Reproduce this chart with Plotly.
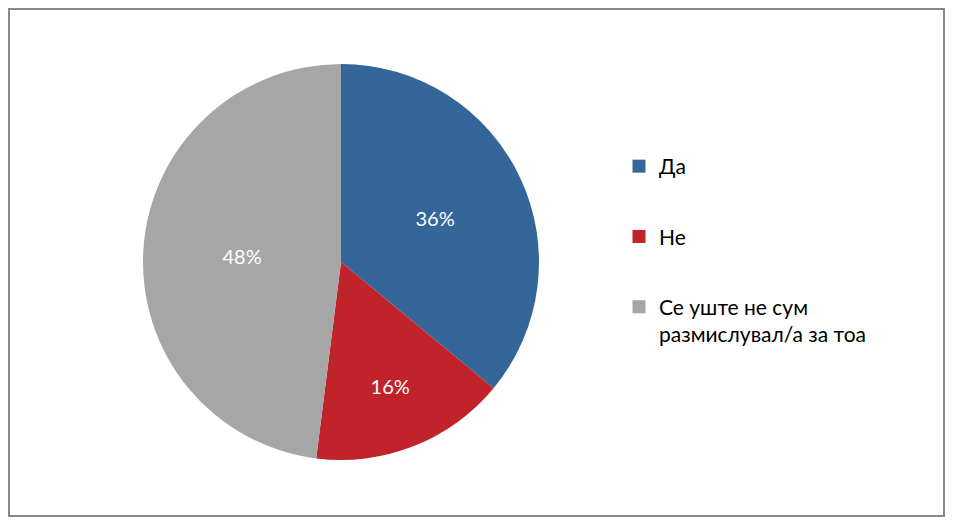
import plotly.graph_objects as go

# survey answers
labels = ["Да", "Не", "Се уште не сум<br>размислувал/а за тоа"]
values = [36, 16, 48]
colors = ["#346699", "#C0232A", "#A6A6A6"]

W, H = 953, 526
OFF = 8  # page body margin shifts the figure
fw, fh = W - 2 * OFF, H - 2 * OFF


def px_x(x):
    return (x - OFF) / fw


def px_y(y):
    return 1 - (y - OFF) / fh


fig = go.Figure(go.Pie(
    labels=labels,
    values=values,
    sort=False,
    direction="clockwise",
    rotation=0,
    marker=dict(colors=colors, line=dict(width=0)),
    texttemplate="%{percent:.0%}",
    textposition="inside",
    insidetextorientation="horizontal",
    textfont=dict(color="white", size=20, family="Lato"),
    hovertemplate="%{value}%<extra></extra>",
    showlegend=False,
    domain=dict(x=[px_x(341 - 198), px_x(341 + 198)],
                y=[px_y(460), px_y(64)]),
))

# legend entries (separate groups so the gap between them can be set)
for lab, col in zip(labels, colors):
    fig.add_trace(go.Scatter(
        x=[None], y=[None], mode="markers", name=lab, legendgroup=lab,
        marker=dict(symbol="square", size=13, color=col),
        hoverinfo="skip",
    ))

fig.update_layout(
    width=fw, height=fh,
    margin=dict(l=0, r=0, t=0, b=0),
    paper_bgcolor="white",
    plot_bgcolor="white",
    xaxis=dict(visible=False),
    yaxis=dict(visible=False),
    showlegend=True,
    legend=dict(
        x=px_x(619), y=px_y(146), xanchor="left", yanchor="top",
        valign="top",
        tracegroupgap=40,
        itemsizing="trace",
        font=dict(family="Lato", size=21, color="black"),
        itemwidth=30,
    ),
    shapes=[dict(type="rect", xref="paper", yref="paper",
                 x0=px_x(9), x1=px_x(944), y0=px_y(516), y1=px_y(9),
                 line=dict(color="#888888", width=2))],
)

fig.write_html("out.html")
